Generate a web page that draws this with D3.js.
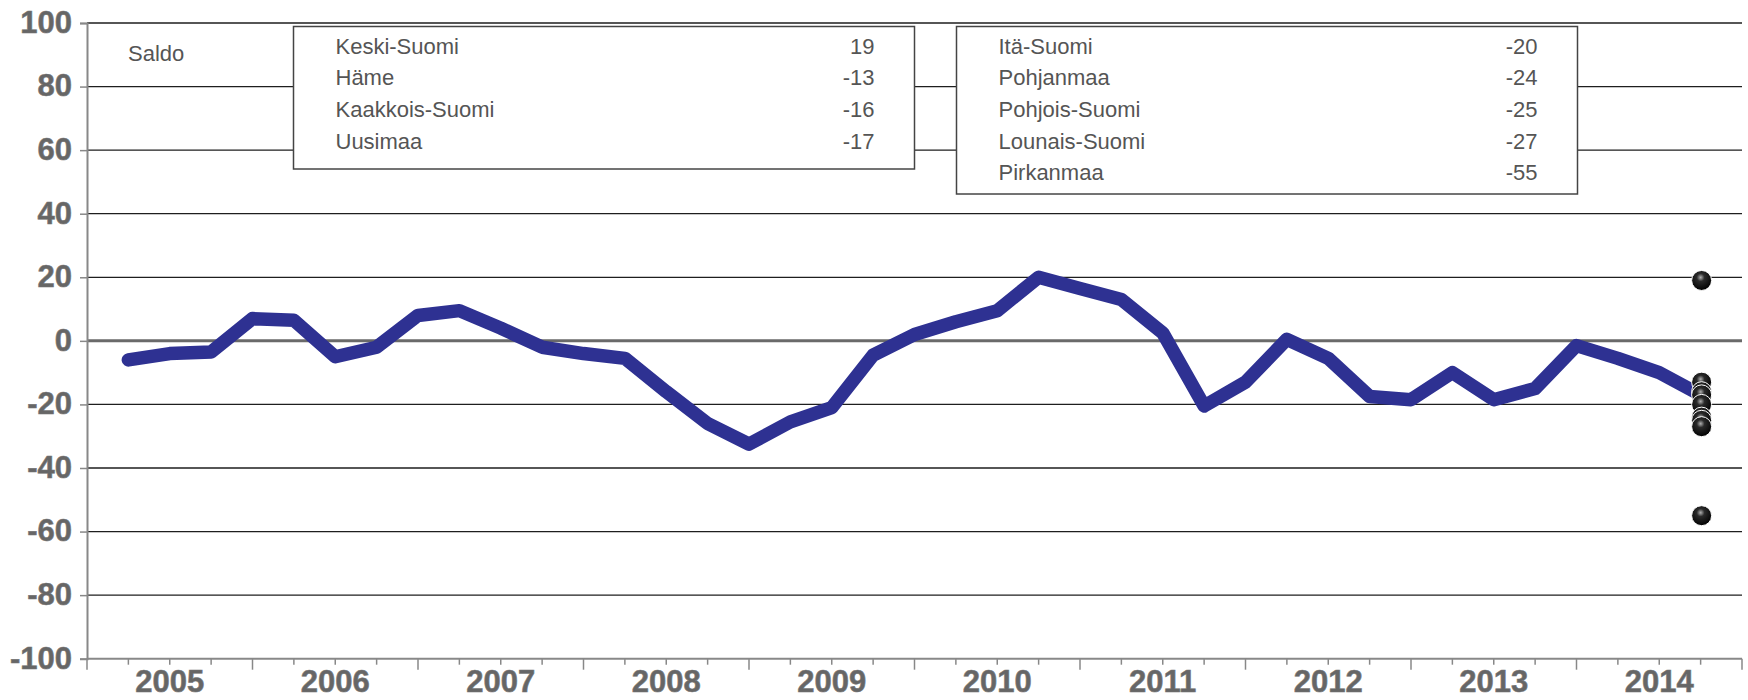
<!DOCTYPE html>
<html><head><meta charset="utf-8">
<script src="https://cdn.jsdelivr.net/npm/d3@7"></script>
<style>html,body{margin:0;padding:0;background:#fff;}svg{display:block;}</style>
</head><body>
<svg id="c" width="1748" height="700"></svg>
<script>
// ---- data ----
const years = ["2005","2006","2007","2008","2009","2010","2011","2012","2013","2014"];
const yTickValues = [100,80,60,40,20,0,-20,-40,-60,-80,-100];
// quarterly balance, one point per quarter boundary starting after 2005 Q1
const saldo = [-6,-4,-3.5,7,6.5,-5,-2,8,9.5,4,-2,-4,-5.5,-16,-26,-32.5,-25.5,-21,-4.5,
               2,6,9.5,20,16.5,13,2.5,-20.5,-13,0.5,-5.5,-17.5,-18.5,-10,-18.5,-15,-1.5,-5.5,-10,-17];
const regionsA = ["Keski-Suomi","Häme","Kaakkois-Suomi","Uusimaa"];
const valuesA = [19,-13,-16,-17];
const regionsB = ["Itä-Suomi","Pohjanmaa","Pohjois-Suomi","Lounais-Suomi","Pirkanmaa"];
const valuesB = [-20,-24,-25,-27,-55];
const yLabel = "Saldo";

// ---- chart ----
const svg = d3.select("#c");
const x = d3.scaleLinear().domain([2005, 2015]).range([87, 1742]);
const y = d3.scaleLinear().domain([-100, 100]).range([658.7, 23]);

const defs = svg.append("defs");
const g = defs.append("radialGradient").attr("id","ball").attr("cx","0.45").attr("cy","0.35").attr("r","0.65");
g.append("stop").attr("offset","0").attr("stop-color","#b0b0b0");
g.append("stop").attr("offset","0.3").attr("stop-color","#2a2a2a");
g.append("stop").attr("offset","1").attr("stop-color","#000");

// gridlines
svg.append("g").selectAll("line").data(yTickValues.filter(v => v !== -100 && v !== 0)).join("line")
  .attr("x1", x(2005)).attr("x2", x(2015))
  .attr("y1", d => y(d)).attr("y2", d => y(d))
  .attr("stroke", "#1e1e1e").attr("stroke-width", 1.3);
// zero line
svg.append("line").attr("x1", x(2005)).attr("x2", x(2015)).attr("y1", y(0)).attr("y2", y(0))
  .attr("stroke", "#6a6a6a").attr("stroke-width", 3);

// y axis
const yAxis = d3.axisLeft(y).tickValues(yTickValues).tickSize(7).tickPadding(8).tickFormat(d => String(d));
const ya = svg.append("g").attr("transform", `translate(${x(2005)},0)`).call(yAxis);
ya.select(".domain").attr("stroke","#888").attr("stroke-width",2);
ya.selectAll(".tick line").attr("stroke","#888").attr("stroke-width",1.5);
ya.selectAll(".tick text").attr("fill","#666").attr("stroke","#777").attr("stroke-width",0.6)
  .style("font-family","'Liberation Sans',Arial,sans-serif").style("font-weight","bold").style("font-size","31px")
  .attr("dy","0.3em");

// x axis (quarter ticks, longer at years)
const quarterTicks = d3.range(0, 41).map(i => 2005 + i / 4);
const xa = svg.append("g").attr("transform", `translate(0,${y(-100)})`);
xa.append("line").attr("x1", x(2005)).attr("x2", x(2015)).attr("stroke","#888").attr("stroke-width",2);
xa.selectAll("line.t").data(quarterTicks).join("line").attr("class","t")
  .attr("x1", d => x(d)).attr("x2", d => x(d)).attr("y1", 0)
  .attr("y2", (d, i) => i % 4 === 0 ? 11 : 6)
  .attr("stroke","#888").attr("stroke-width",1.5);
xa.selectAll("text").data(years).join("text")
  .attr("x", d => x(+d + 0.5)).attr("y", 33)
  .attr("text-anchor","middle").attr("fill","#666").attr("stroke","#777").attr("stroke-width",0.6)
  .style("font-family","'Liberation Sans',Arial,sans-serif").style("font-weight","bold").style("font-size","31px")
  .text(d => d);

// line
const line = d3.line().x((d, i) => x(2005 + (i + 1) / 4)).y(d => y(d));
svg.append("path").datum(saldo).attr("d", line).attr("fill","none")
  .attr("stroke","#2e3192").attr("stroke-width",13.5).attr("stroke-linejoin","round").attr("stroke-linecap","round");

// regional dots
const dotX = x(2005 + saldo.length / 4) + 1;
const allVals = valuesA.concat(valuesB);
svg.append("g").selectAll("circle").data(allVals).join("circle")
  .attr("cx", dotX).attr("cy", d => y(d)).attr("r", 10)
  .attr("fill","url(#ball)").attr("stroke","#fff").attr("stroke-width",1);

// legend boxes
function box(x0, y0, w, h, names, vals) {
  const gb = svg.append("g");
  gb.append("rect").attr("x", x0).attr("y", y0).attr("width", w).attr("height", h)
    .attr("fill","#fff").attr("stroke","#444").attr("stroke-width",1.5);
  gb.selectAll("text.n").data(names).join("text").attr("class","n")
    .attr("x", x0 + 42).attr("y", (d, i) => 53.5 + i * 31.7)
    .attr("fill","#555").style("font-family","'Liberation Sans',Arial,sans-serif").style("font-size","22px")
    .text(d => d);
  gb.selectAll("text.v").data(vals).join("text").attr("class","v")
    .attr("x", x0 + w - 40).attr("y", (d, i) => 53.5 + i * 31.7).attr("text-anchor","end")
    .attr("fill","#555").style("font-family","'Liberation Sans',Arial,sans-serif").style("font-size","22px")
    .text(d => d);
}
box(293.5, 26.5, 621, 142.5, regionsA, valuesA);
box(956.5, 26.5, 621, 167.5, regionsB, valuesB);

svg.append("text").attr("x", 128).attr("y", 60.5).attr("fill","#555")
  .style("font-family","'Liberation Sans',Arial,sans-serif").style("font-size","22px").text(yLabel);
</script>
</body></html>
